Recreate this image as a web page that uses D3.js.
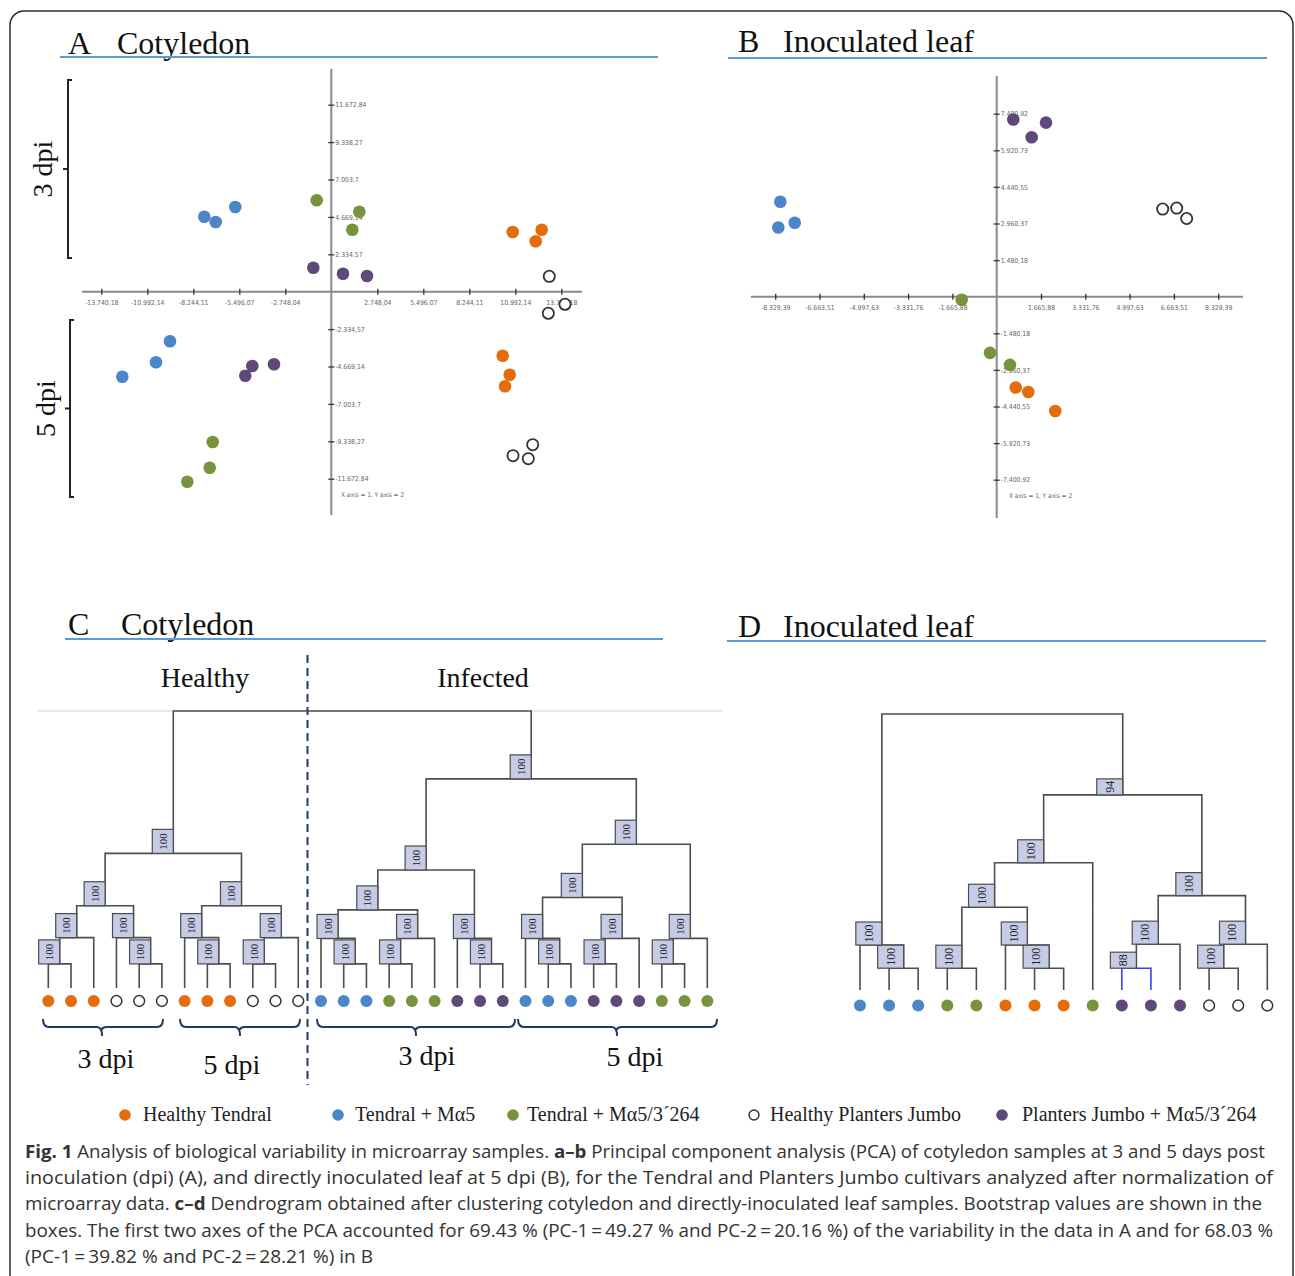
<!DOCTYPE html>
<html>
<head>
<meta charset="utf-8">
<script src="https://cdn.jsdelivr.net/npm/d3@7"></script>
<style>
  body { margin: 0; background: #fff; }
  svg { display: block; }
</style>
</head>
<body>
<div id="fig"></div>
<script>
// sample groups
const groups = ["HT", "T5", "T53", "HP", "PJ"];
const groupNames = ["Healthy Tendral", "Tendral + M\u03b15", "Tendral + M\u03b15/3\u00b4264",
  "Healthy Planters Jumbo", "Planters Jumbo + M\u03b15/3\u00b4264"];
const groupColors = ["#e46c0a", "#4a86c8", "#77933c", "#ffffff", "#5f497a"];

// PCA cotyledon (A): [group, PC1, PC2]
const pcaA = [
  ["T5", -7587, 4682], ["T5", -6906, 4351], ["T5", -5735, 5287],
  ["T53", -872, 5705], ["T53", 1673, 4994], ["T53", 1255, 3870],
  ["PJ", -1075, 1498], ["PJ", 699, 1124], ["PJ", 2133, 980],
  ["HT", 10837, 3726], ["HT", 12569, 3870], ["HT", 12211, 3146],
  ["HP", 13023, 961], ["HP", 13961, -786], ["HP", 12964, -1348],
  ["T5", -9636, -3096], ["T5", -10473, -4407], ["T5", -12486, -5306],
  ["PJ", -4719, -4638], ["PJ", -3423, -4532], ["PJ", -5138, -5243],
  ["T53", -7085, -9384], ["T53", -7264, -10986], ["T53", -8603, -11860],
  ["HT", 10239, -3995], ["HT", 10658, -5181], ["HT", 10377, -5905],
  ["HP", 12032, -9550], ["HP", 10855, -10237], ["HP", 11769, -10424]
];
// PCA inoculated leaf (B)
const pcaB = [
  ["PJ", 624, 7165], ["PJ", 1854, 7039], ["PJ", 1316, 6448],
  ["T5", -8137, 3840], ["T5", -8212, 2798], ["T5", -7595, 2989],
  ["HP", 6242, 3544], ["HP", 6768, 3585], ["HP", 7144, 3163],
  ["T53", -1316, -122], ["T53", -252, -2271], ["T53", 500, -2757],
  ["HT", 714, -3674], ["HT", 1188, -3852], ["HT", 2203, -4623]
];

const aXTicks = [-13740.18, -10992.14, -8244.11, -5496.07, -2748.04, 2748.04, 5496.07, 8244.11, 10992.14, 13740.18];
const aYTicks = [-11672.84, -9338.27, -7003.7, -4669.14, -2334.57, 2334.57, 4669.14, 7003.7, 9338.27, 11672.84];
const bXTicks = [-8329.39, -6663.51, -4997.63, -3331.76, -1665.88, 1665.88, 3331.76, 4997.63, 6663.51, 8329.39];
const bYTicks = [-7400.92, -5920.73, -4440.55, -2960.37, -1480.18, 1480.18, 2960.37, 4440.55, 5920.73, 7400.92];

// dendrogram C: leaves, then merges [child, child, height, bootstrap]
const cLeaves = ["HT","HT","HT","HP","HP","HP","HT","HT","HT","HP","HP","HP",
  "T5","T5","T5","T53","T53","T53","PJ","PJ","PJ",
  "T5","T5","T5","PJ","PJ","PJ","T53","T53","T53"];
const cMerges = [
  [0, 1, 8.7, 100], [30, 2, 18.2, 100], [4, 5, 8.7, 100], [3, 32, 18.2, 100], [31, 33, 29.7, 100],
  [7, 8, 8.7, 100], [6, 35, 18.2, 100], [9, 10, 8.7, 100], [37, 11, 18.2, 100], [36, 38, 29.7, 100],
  [34, 39, 48.6, 100],
  [13, 14, 8.7, 100], [12, 41, 17.9, 100], [15, 16, 8.7, 100], [43, 17, 17.9, 100], [42, 44, 28.2, 100],
  [19, 20, 8.7, 100], [18, 46, 17.9, 100], [45, 47, 42.6, 100],
  [22, 23, 8.7, 100], [21, 49, 17.9, 100], [24, 25, 8.7, 100], [51, 26, 17.9, 100], [50, 52, 32.7, 100],
  [27, 28, 8.7, 100], [54, 29, 17.9, 100], [53, 55, 51.9, 100],
  [48, 56, 75.5, 100], [40, 57, 100, null]
];
// dendrogram D
const dLeaves = ["T5","T5","T5","T53","T53","HT","HT","HT","T53","PJ","PJ","PJ","HP","HP","HP"];
const dMerges = [
  [1, 2, 7.9, 100], [0, 15, 16.3, 100], [3, 4, 7.9, 100], [6, 7, 7.9, 100], [5, 18, 16.3, 100],
  [17, 19, 30, 100], [20, 8, 46.1, 100], [9, 10, 7.9, 88], [22, 11, 16.6, 100], [12, 13, 7.9, 100],
  [24, 14, 16.6, 100], [23, 25, 34.2, 100], [21, 26, 70.7, 94], [16, 27, 100, null]
];
const dHighlight = [22];

const caption = [
  [["Fig. 1", true], [" Analysis of biological variability in microarray samples. ", false], ["a\u2013b", true],
   [" Principal component analysis (PCA) of cotyledon samples at 3 and 5 days post", false]],
  [["inoculation (dpi) (A), and directly inoculated leaf at 5 dpi (B), for the Tendral and Planters Jumbo cultivars analyzed after normalization of", false]],
  [["microarray data. ", false], ["c\u2013d", true],
   [" Dendrogram obtained after clustering cotyledon and directly-inoculated leaf samples. Bootstrap values are shown in the", false]],
  [["boxes. The first two axes of the PCA accounted for 69.43 % (PC-1\u2009=\u200949.27 % and PC-2\u2009=\u200920.16 %) of the variability in the data in A and for 68.03 %", false]],
  [["(PC-1\u2009=\u200939.82 % and PC-2\u2009=\u200928.21 %) in B", false]]
];
const captionWidths = [1240, 1248, 1237, 1248, 348];

const W = 1295, H = 1276;
const serif = "'Liberation Serif', 'DejaVu Serif', serif";
const tiny = "'Liberation Sans Narrow', 'DejaVu Sans Condensed', 'Liberation Sans', sans-serif";
const color = g => groupColors[groups.indexOf(g)];
const fmt = d3.formatLocale({ decimal: ",", thousands: ".", grouping: [3], currency: ["", ""], minus: "-" }).format(",.2~f");

const svg = d3.select("#fig").append("svg").attr("width", W).attr("height", H);

// frame
svg.append("rect").attr("x", 10).attr("y", 11).attr("width", 1283).attr("height", 1320)
  .attr("rx", 14).attr("fill", "none").attr("stroke", "#2b2b2b").attr("stroke-width", 1.5);

function title(letter, name, x, x2, base, lineY, lx1, lx2) {
  svg.append("text").attr("x", x).attr("y", base).attr("font-family", serif)
    .attr("font-size", 32).attr("fill", "#111").text(letter);
  svg.append("text").attr("x", x2).attr("y", base).attr("font-family", serif)
    .attr("font-size", 32).attr("fill", "#111").text(name);
  svg.append("line").attr("x1", lx1).attr("x2", lx2).attr("y1", lineY).attr("y2", lineY)
    .attr("stroke", "#5b9bd5").attr("stroke-width", 2);
}
title("A", "Cotyledon", 68, 117, 54, 57, 60, 658);
title("B", "Inoculated leaf", 738, 783, 52, 58, 728, 1267);
title("C", "Cotyledon", 68, 121, 635, 639, 65, 663);
title("D", "Inoculated leaf", 738, 783, 637, 641, 727, 1266);

// PCA panels
function pca(data, xs, ys, xt, yt, ext, noteXY) {
  const g = svg.append("g");
  const x0 = xs(0), y0 = ys(0);
  g.append("line").attr("x1", ext[0]).attr("x2", ext[1]).attr("y1", y0).attr("y2", y0)
    .attr("stroke", "#8a8a8a").attr("stroke-width", 2);
  g.append("line").attr("x1", x0).attr("x2", x0).attr("y1", ext[2]).attr("y2", ext[3])
    .attr("stroke", "#8a8a8a").attr("stroke-width", 2);

  const xa = g.append("g").attr("transform", "translate(0," + y0 + ")")
    .call(d3.axisBottom(xs).tickValues(xt).tickFormat(fmt).tickSize(3));
  xa.select(".domain").remove();
  xa.selectAll(".tick line").attr("y1", -3).attr("stroke", "#333").attr("stroke-width", 1.3);
  xa.selectAll(".tick text").attr("y", 8).attr("font-family", tiny).attr("font-size", 6.8).attr("fill", "#666");

  const ya = g.append("g").attr("transform", "translate(" + x0 + ",0)")
    .call(d3.axisRight(ys).tickValues(yt).tickFormat(fmt).tickSize(3));
  ya.select(".domain").remove();
  ya.selectAll(".tick line").attr("x1", -3).attr("stroke", "#333").attr("stroke-width", 1.3);
  ya.selectAll(".tick text").attr("x", 4).attr("font-family", tiny).attr("font-size", 6.8).attr("fill", "#666");

  g.append("text").attr("x", noteXY[0]).attr("y", noteXY[1]).attr("font-family", tiny)
    .attr("font-size", 6.5).attr("fill", "#666").text("X axis = 1, Y axis = 2");

  g.selectAll("circle.pt").data(data).enter().append("circle")
    .attr("class", "pt")
    .attr("cx", d => xs(d[1])).attr("cy", d => ys(d[2]))
    .attr("r", d => d[0] === "HP" ? 5.6 : 6.3)
    .attr("fill", d => color(d[0]))
    .attr("stroke", d => d[0] === "HP" ? "#333" : "none")
    .attr("stroke-width", 1.8);
}

const xA = d3.scaleLinear().domain([-13740.18, 13740.18]).range([101.3, 561.3]);
const yA = d3.scaleLinear().domain([-11672.84, 11672.84]).range([478.7, 104.7]);
pca(pcaA, xA, yA, aXTicks, aYTicks, [82, 582, 69, 515], [341, 497]);

const xB = d3.scaleLinear().domain([-8329.39, 8329.39]).range([775.2, 1218.2]);
const yB = d3.scaleLinear().domain([-7400.92, 7400.92]).range([479.7, 113.7]);
pca(pcaB, xB, yB, bXTicks, bYTicks, [751, 1243, 76, 518], [1009, 498]);

// dpi brackets in A
function sideBracket(x, y1, y2, label, lx) {
  const ym = (y1 + y2) / 2;
  svg.append("path")
    .attr("d", `M${x + 4},${y1}H${x}V${y2}H${x + 4}M${x},${ym}H${x - 5}`)
    .attr("fill", "none").attr("stroke", "#222").attr("stroke-width", 2);
  svg.append("text").attr("transform", `translate(${lx},${ym}) rotate(-90)`)
    .attr("text-anchor", "middle").attr("font-family", serif).attr("font-size", 28)
    .attr("fill", "#111").text(label);
}
sideBracket(68, 80, 258, "3 dpi", 52);
sideBracket(70, 320, 497, "5 dpi", 55);

// C headers
svg.append("line").attr("x1", 37).attr("x2", 723).attr("y1", 711).attr("y2", 711)
  .attr("stroke", "#e2e2e2").attr("stroke-width", 1.5);
svg.append("text").attr("x", 205).attr("y", 687).attr("text-anchor", "middle")
  .attr("font-family", serif).attr("font-size", 28).attr("fill", "#111").text("Healthy");
svg.append("text").attr("x", 483).attr("y", 687).attr("text-anchor", "middle")
  .attr("font-family", serif).attr("font-size", 28).attr("fill", "#111").text("Infected");
svg.append("line").attr("x1", 307.5).attr("x2", 307.5).attr("y1", 655).attr("y2", 1085)
  .attr("stroke", "#1f3864").attr("stroke-width", 2).attr("stroke-dasharray", "8,5");

function dendro(leaves, merges, xs, hs, o) {
  const g = svg.append("g");
  const n = leaves.length;
  const nodes = leaves.map((d, i) => ({ x: xs(i), y: hs(0) }));
  merges.forEach((m, k) => {
    const a = nodes[m[0]], b = nodes[m[1]];
    nodes.push({ x: (a.x + b.x) / 2, y: hs(m[2]), boot: m[3], a: a, b: b,
      hl: o.highlight.indexOf(n + k) >= 0 });
  });
  const inner = nodes.slice(n);
  g.selectAll("path.link").data(inner).enter().append("path")
    .attr("class", "link")
    .attr("d", d => `M${d.a.x},${d.a.y}V${d.y}H${d.b.x}V${d.b.y}`)
    .attr("fill", "none")
    .attr("stroke", d => d.hl ? "#3d3dff" : "#4d4d4d")
    .attr("stroke-width", 1.6);

  const boxed = inner.filter(d => d.boot != null);
  const bh = d => String(d.boot).length === 3 ? o.bh : o.bh2;
  g.selectAll("rect.boot").data(boxed).enter().append("rect")
    .attr("x", d => d.x - o.bw).attr("y", d => d.y - bh(d))
    .attr("width", o.bw).attr("height", bh)
    .attr("fill", "#c6cbe6").attr("stroke", "#4d4d4d").attr("stroke-width", 1.2);
  g.selectAll("text.boot").data(boxed).enter().append("text")
    .attr("transform", d => `translate(${d.x - o.bw / 2},${d.y - bh(d) / 2}) rotate(-90)`)
    .attr("text-anchor", "middle").attr("dominant-baseline", "central")
    .attr("font-family", serif).attr("font-size", o.fs).attr("fill", "#222")
    .text(d => d.boot);

  g.selectAll("circle.leaf").data(leaves).enter().append("circle")
    .attr("cx", (d, i) => xs(i)).attr("cy", o.dotY)
    .attr("r", d => d === "HP" ? 5.4 : 6)
    .attr("fill", d => color(d))
    .attr("stroke", d => d === "HP" ? "#333" : "none")
    .attr("stroke-width", 1.5);
}

const xC = d3.scalePoint().domain(d3.range(cLeaves.length)).range([48.3, 707.3]);
const hC = d3.scaleLinear().domain([0, 100]).range([988, 711]);
dendro(cLeaves, cMerges, xC, hC, { highlight: [], bw: 21, bh: 24, bh2: 17, fs: 11, dotY: 1001 });

const xD = d3.scalePoint().domain(d3.range(dLeaves.length)).range([860, 1267.3]);
const hD = d3.scaleLinear().domain([0, 100]).range([990, 714]);
dendro(dLeaves, dMerges, xD, hD, { highlight: dHighlight, bw: 26, bh: 23, bh2: 16, fs: 12, dotY: 1005.5 });

// braces under C
function brace(x1, x2, xm, label, lx, ly) {
  const y0 = 1019, y1 = 1027, y2 = 1036;
  svg.append("path")
    .attr("d", `M${x1},${y0}Q${x1},${y1} ${x1 + 6},${y1}H${xm - 5}Q${xm},${y1} ${xm},${y2}` +
      `M${xm},${y1 + 3}Q${xm},${y1} ${xm + 5},${y1}H${x2 - 6}Q${x2},${y1} ${x2},${y0}`)
    .attr("fill", "none").attr("stroke", "#1f3864").attr("stroke-width", 2);
  svg.append("text").attr("x", lx).attr("y", ly).attr("text-anchor", "middle")
    .attr("font-family", serif).attr("font-size", 28).attr("fill", "#111").text(label);
}
brace(43, 163, 102, "3 dpi", 106, 1068);
brace(180, 300, 240, "5 dpi", 232, 1074);
brace(317, 515, 416, "3 dpi", 427, 1065);
brace(518, 717, 617, "5 dpi", 635, 1066);

// legend
const legendX = [125, 338, 513, 754, 1002];
const legendGap = [18, 17, 14, 16, 20];
groups.forEach((g, i) => {
  svg.append("circle").attr("cx", legendX[i]).attr("cy", 1115)
    .attr("r", g === "HP" ? 5 : 5.8).attr("fill", groupColors[i])
    .attr("stroke", g === "HP" ? "#333" : "none").attr("stroke-width", 1.4);
  svg.append("text").attr("x", legendX[i] + legendGap[i]).attr("y", 1121)
    .attr("font-family", serif).attr("font-size", 20).attr("fill", "#222").text(groupNames[i]);
});

// caption
caption.forEach((line, i) => {
  const t = svg.append("text").attr("x", 25).attr("y", 1158 + i * 26.2)
    .attr("font-family", "'Open Sans', 'Noto Sans', sans-serif").attr("font-size", 17.5)
    .attr("fill", "#333")
    .attr("textLength", captionWidths[i]).attr("lengthAdjust", "spacingAndGlyphs");
  line.forEach(seg => {
    t.append("tspan").attr("font-weight", seg[1] ? 700 : 400).text(seg[0]);
  });
});
</script>
</body>
</html>
